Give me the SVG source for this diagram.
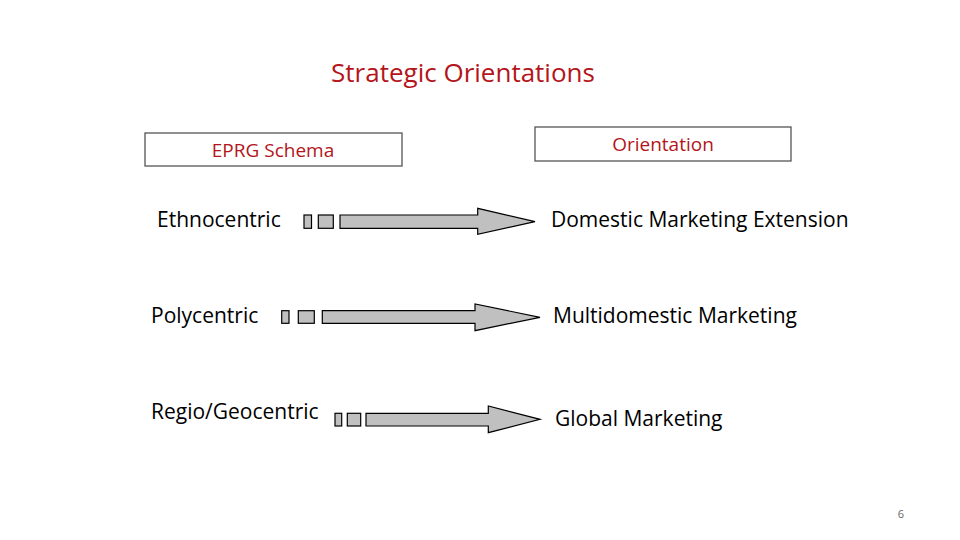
<svg xmlns="http://www.w3.org/2000/svg" width="960" height="540" viewBox="0 0 960 540">
<style>
.t{font-family:"Open Sans","Liberation Sans",Arial,sans-serif;font-size:21px;fill:#000}
.r{font-family:"Open Sans","Liberation Sans",Arial,sans-serif;fill:#B3151B}
.hdr{fill:#fff;stroke:#555;stroke-width:1.3}
.a{fill:#C0C0C0;stroke:#000;stroke-width:1.2}
</style>
<rect width="960" height="540" fill="#fff"/>
<text class="r" x="463" y="82" font-size="26" text-anchor="middle">Strategic Orientations</text>
<g id="eprg">
<rect class="hdr" x="145" y="133" width="257" height="33"/>
<text class="r" x="273" y="157" font-size="19" text-anchor="middle">EPRG Schema</text>
</g>
<g id="orientation">
<rect class="hdr" x="535" y="127" width="256" height="34"/>
<text class="r" x="663" y="151" font-size="19" text-anchor="middle">Orientation</text>
</g>
<g id="ethno"><text class="t" x="157" y="227">Ethnocentric</text></g>
<g id="domestic"><text class="t" x="551" y="227">Domestic Marketing Extension</text></g>
<g id="poly"><text class="t" x="151" y="323">Polycentric</text></g>
<g id="multi"><text class="t" x="553" y="323">Multidomestic Marketing</text></g>
<g id="regio"><text class="t" x="151" y="419">Regio/Geocentric</text></g>
<g id="global"><text class="t" x="555" y="426">Global Marketing</text></g>
<g id="connectors">
<rect class="a" x="304" y="215" width="7.5" height="13.3"/>
<rect class="a" x="318.3" y="215" width="15" height="13.3"/>
<polygon class="a" points="340,215 477.7,215 477.7,208.3 535,221.7 477.7,234.3 477.7,228.3 340,228.3"/>
<rect class="a" x="281.7" y="310.7" width="7.3" height="12.6"/>
<rect class="a" x="298.3" y="310.7" width="16" height="12.6"/>
<polygon class="a" points="322.3,310.7 475,310.7 475,304 540,317.3 475,330.7 475,323.3 322.3,323.3"/>
<rect class="a" x="335" y="413.3" width="6.7" height="12.7"/>
<rect class="a" x="347.3" y="413.3" width="13.4" height="12.7"/>
<polygon class="a" points="366,413.3 488.3,413.3 488.3,406 540,419.3 488.3,432.7 488.3,426 366,426"/>
</g>
<text x="901" y="518" font-family="Open Sans,Liberation Sans,Arial,sans-serif" font-size="11" fill="#666" text-anchor="middle">6</text>
</svg>
